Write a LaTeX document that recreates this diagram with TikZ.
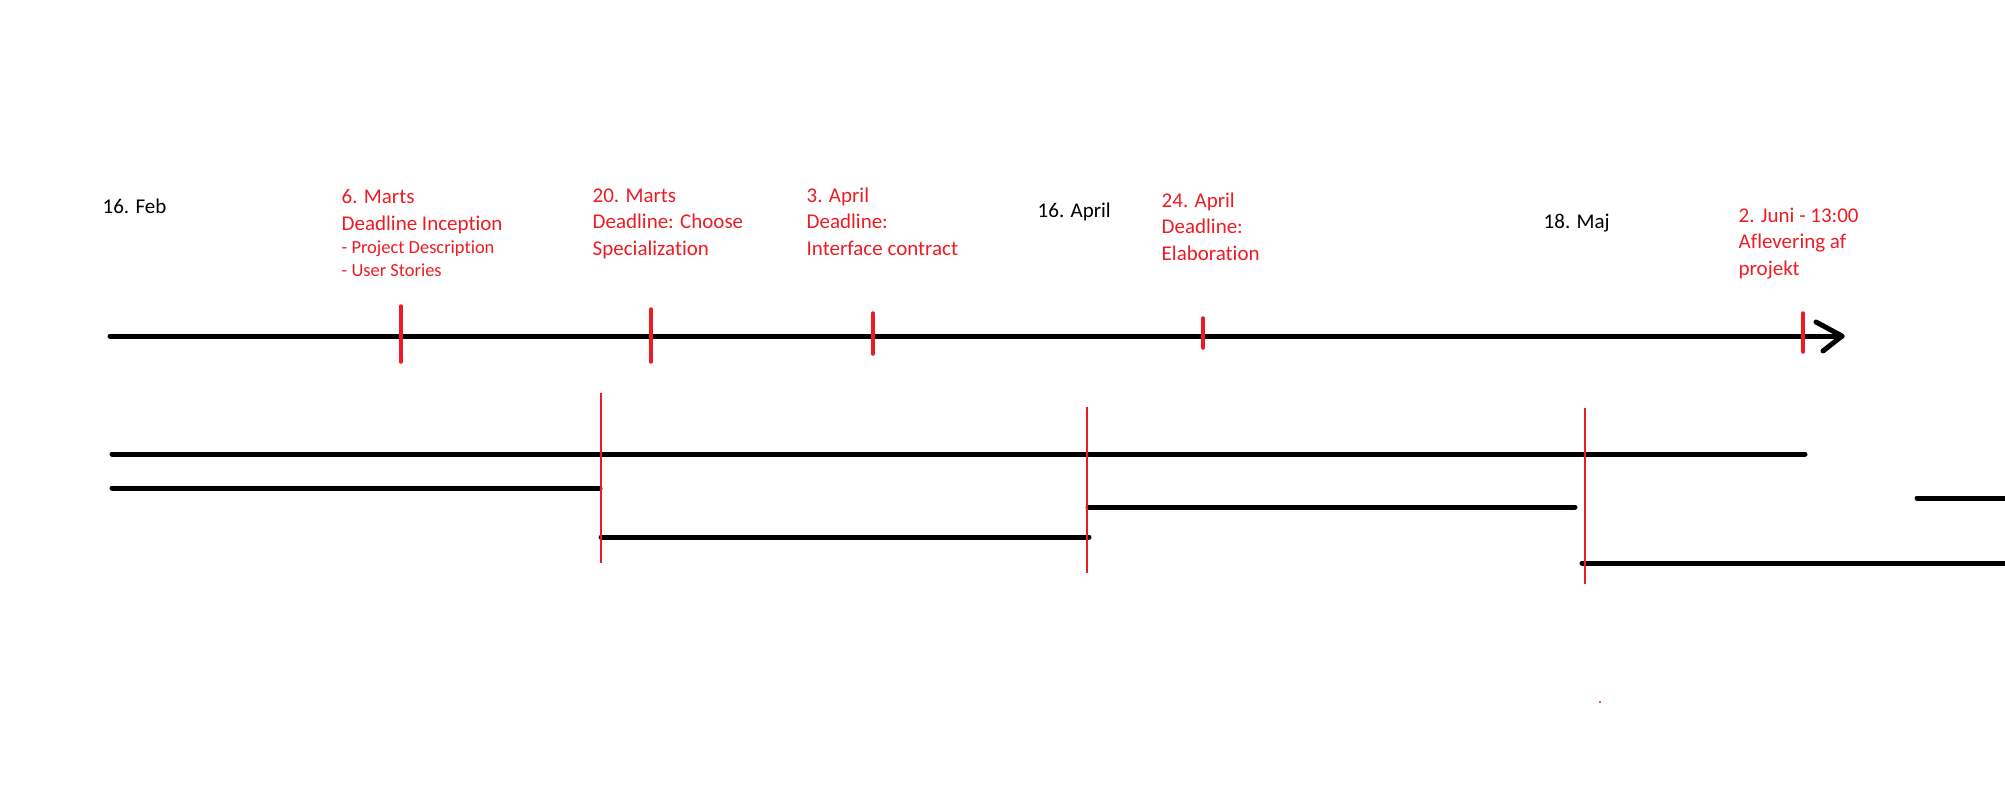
\documentclass[tikz,border=0pt]{standalone}
\usepackage{fontspec}
\setmainfont{Carlito}[Ligatures={NoCommon,NoRare}]
\definecolor{pred}{RGB}{237,28,36}
\begin{document}
\begin{tikzpicture}[x=0.01cm,y=-0.01cm,
  blk/.style={line width=1.42pt,line cap=round,black},
  tickr/.style={line width=1pt,line cap=round,pred},
  divr/.style={line width=0.65pt,pred},
  lbl/.style={inner sep=0pt,anchor=base west,align=left,font=\fontsize{5.97pt}{7.4pt}\selectfont},
  sublbl/.style={inner sep=0pt,anchor=base west,align=left,font=\fontsize{5.25pt}{6.5pt}\selectfont}]
\useasboundingbox (0,0) rectangle (2005,808);
% main timeline
\coordinate (ms) at (110,336);
\coordinate (me) at (1842,336);
\coordinate (ha) at (1816,322);
\coordinate (hb) at (1823,351);
\draw[blk] (ms) -- (me);
\draw[blk,line join=round] (ha) -- (me) -- (hb);
% ticks
\coordinate (t1a) at (401,306); \coordinate (t1b) at (401,362);
\coordinate (t2a) at (651,309); \coordinate (t2b) at (651,362);
\coordinate (t3a) at (873,313); \coordinate (t3b) at (873,354);
\coordinate (t4a) at (1203,318); \coordinate (t4b) at (1203,348);
\coordinate (t5a) at (1803,313); \coordinate (t5b) at (1803,352);
\foreach \t in {t1,t2,t3,t4,t5} \draw[tickr] (\t a) -- (\t b);
% lower bars
\coordinate (a1) at (112,454); \coordinate (a2) at (1805,454);
\coordinate (b1) at (112,488); \coordinate (b2) at (600,488);
\coordinate (c1) at (601,537); \coordinate (c2) at (1089,537);
\coordinate (d1) at (1088,507); \coordinate (d2) at (1575,507);
\coordinate (e1) at (1582,563); \coordinate (e2) at (2010,563);
\coordinate (f1) at (1917,498); \coordinate (f2) at (2010,498);
\draw[blk] (a1) -- (a2);
\draw[blk] (b1) -- (b2);
\draw[blk] (c1) -- (c2);
\draw[blk] (d1) -- (d2);
\draw[blk] (e1) -- (e2);
\draw[blk] (f1) -- (f2);
\coordinate (r1a) at (601,393); \coordinate (r1b) at (601,563);
\coordinate (r2a) at (1087,407); \coordinate (r2b) at (1087,573);
\coordinate (r3a) at (1585,408); \coordinate (r3b) at (1585,584);
\draw[divr] (r1a) -- (r1b);
\draw[divr] (r2a) -- (r2b);
\draw[divr] (r3a) -- (r3b);
\fill[pred] (1600,702) circle[radius=1.2];
% labels (base = baseline of last line)
\node[lbl] (feb) at (102,213) {16. Feb};
\node[lbl,text=pred] (m6) at (341,230) {6. Marts\\Deadline Inception};
\node[sublbl,text=pred] (m6s) at (341,276) {- Project Description\\- User Stories};
\node[lbl,text=pred] (m20) at (592,255) {20. Marts\\Deadline: Choose\\Specialization};
\node[lbl,text=pred] (a3) at (806,255) {3. April\\Deadline:\\Interface contract};
\node[lbl] (a16) at (1037,217) {16. April};
\node[lbl,text=pred] (a24) at (1161,260) {24. April\\Deadline:\\Elaboration};
\node[lbl] (m18) at (1543,228) {18. Maj};
\node[lbl,text=pred] (j2) at (1738,275) {2. Juni - 13:00\\Aflevering af\\projekt};
\end{tikzpicture}
\end{document}
